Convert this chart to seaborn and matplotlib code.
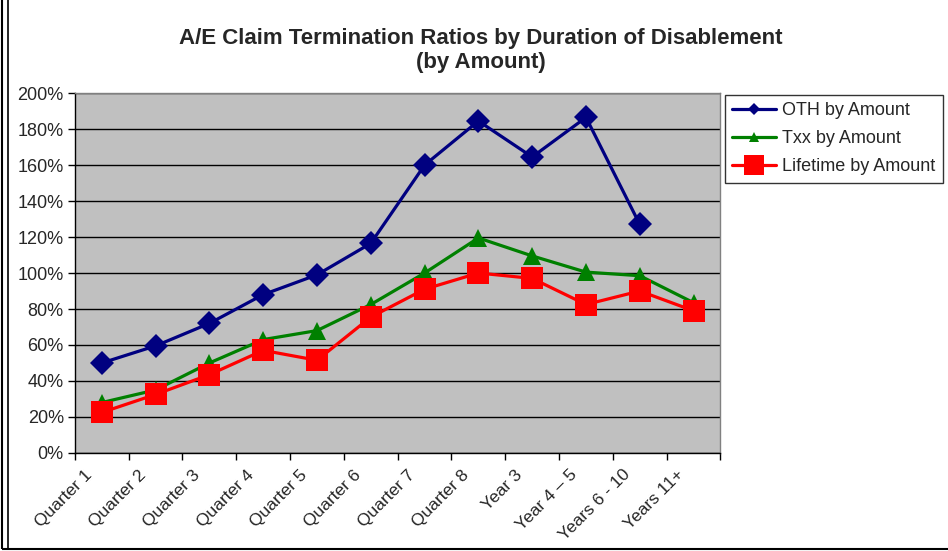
import matplotlib.pyplot as plt
import matplotlib.ticker as mticker
from matplotlib.patches import Rectangle
from matplotlib.lines import Line2D
import seaborn as sns
import pandas as pd
import numpy as np

sns.set_style("white")
plt.rcParams['font.family'] = ['Liberation Sans', 'DejaVu Sans']

# Data (A/E ratios, %)
durations = ["Quarter 1", "Quarter 2", "Quarter 3", "Quarter 4", "Quarter 5", "Quarter 6",
             "Quarter 7", "Quarter 8", "Year 3", "Year 4 \u2013 5", "Years 6 - 10", "Years 11+"]
oth = [50, 59.5, 72, 88, 99, 116.5, 160, 184.5, 164.5, 186.5, 127, np.nan]
txx = [28, 35, 50, 63, 68, 82.5, 100, 119.5, 109.5, 100.5, 98.5, 83.5]
lifetime = [22.5, 32.5, 43.5, 57, 51.5, 75.5, 91, 100, 97, 82.5, 90, 79]

series_names = ["OTH by Amount", "Txx by Amount", "Lifetime by Amount"]
series_values = [oth, txx, lifetime]
colors = ["#000080", "#008000", "#FF0000"]
markers = ["D", "^", "s"]
msizes = [12, 13, 16]

df = pd.DataFrame({
    "pos": np.tile(np.arange(len(durations)), len(series_names)),
    "series": np.repeat(series_names, len(durations)),
    "value": np.concatenate(series_values) / 100.0,
})

fig = plt.figure(figsize=(9.48, 5.51), dpi=100)
ax = fig.add_axes([0.079, 0.178, 0.681, 0.653])
ax.set_facecolor("#C0C0C0")

for name, color, marker, ms in zip(series_names, colors, markers, msizes):
    sub = df[df["series"] == name]
    sns.lineplot(data=sub, x="pos", y="value", ax=ax, color=color, linewidth=2.3,
                 marker=marker, markersize=ms, markeredgewidth=0, label=name, legend=False)

ax.set_xlim(-0.5, len(durations) - 0.5)
ax.set_ylim(0, 2.0)
ax.yaxis.set_major_locator(mticker.MultipleLocator(0.2))
ax.yaxis.set_major_formatter(mticker.PercentFormatter(1.0, decimals=0))
ax.grid(axis="y", color="black", linewidth=1)
ax.set_axisbelow(True)

# labels sit a little left of the category centre, as in the Excel original
ax.set_xticks(np.arange(len(durations)) - 0.22)
ax.set_xticklabels(durations, rotation=45, ha="right", va="center", rotation_mode="anchor",
                   fontsize=12.5)
ax.set_xticks(np.arange(len(durations) + 1) - 0.5, minor=True)
ax.tick_params(axis="x", which="major", length=0, pad=14)
ax.tick_params(axis="x", which="minor", length=5, width=1, color="black", direction="out")
ax.tick_params(axis="y", length=5, width=1, color="black", direction="out", labelsize=13, pad=3)
ax.xaxis.set_ticks_position("bottom")
ax.yaxis.set_ticks_position("left")

for side in ["top", "right"]:
    ax.spines[side].set_color("#808080")
    ax.spines[side].set_linewidth(1)
for side in ["left", "bottom"]:
    ax.spines[side].set_color("black")
    ax.spines[side].set_linewidth(1)

ax.set_xlabel("")
ax.set_ylabel("")

fig.text(0.507, 0.908, "A/E Claim Termination Ratios by Duration of Disablement\n(by Amount)",
         ha="center", va="center", fontsize=16, fontweight="bold", linespacing=1.15)

handles = [Line2D([0], [0], color=c, linewidth=2.3, marker=m, markersize=s * 0.55 if m != "s" else s * 0.9,
                  markeredgewidth=0) for c, m, s in zip(colors, markers, msizes)]
leg = fig.legend(handles, series_names, loc="upper left", bbox_to_anchor=(0.765, 0.828),
                 frameon=True, fancybox=False, edgecolor="black", fontsize=13,
                 handlelength=2.4, handletextpad=0.35, borderpad=0.4, labelspacing=0.62,
                 borderaxespad=0)
leg.get_frame().set_linewidth(1)

# outer chart border
fig.patches.append(Rectangle((0.002, 0.003), 1.2, 1.2, transform=fig.transFigure,
                             fill=False, edgecolor="black", linewidth=1.5))
fig.add_artist(Line2D([0.008, 0.008], [0.003, 1.0], transform=fig.transFigure,
                      color="black", linewidth=1.2))

fig.savefig("out.png", dpi=100)
